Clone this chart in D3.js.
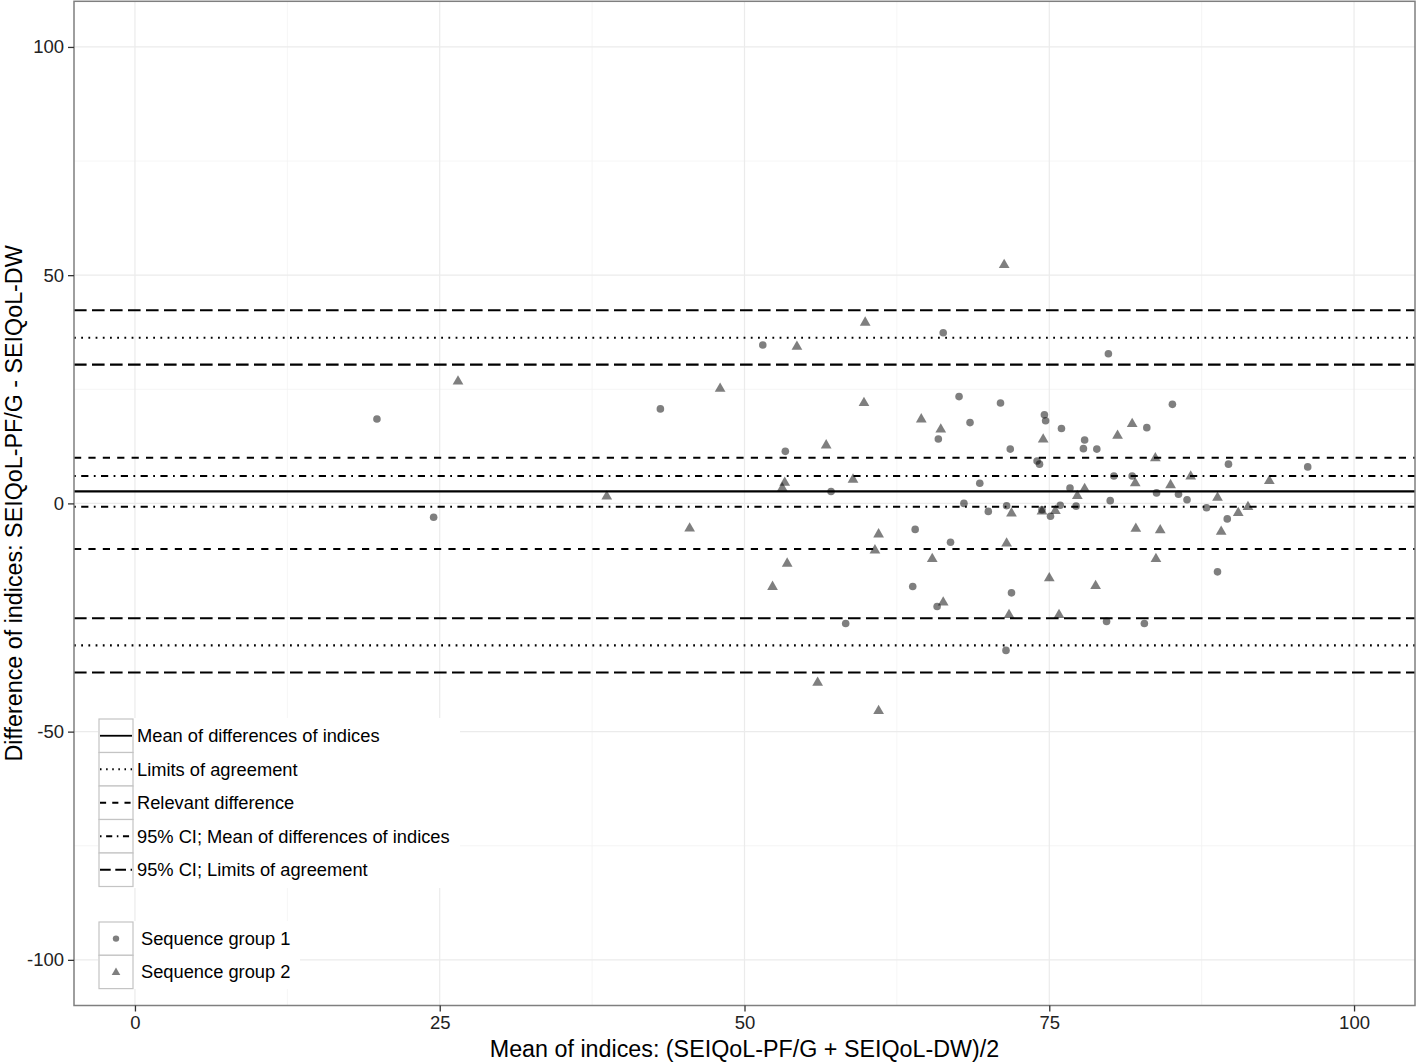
<!DOCTYPE html>
<html>
<head>
<meta charset="utf-8">
<script src="https://cdn.jsdelivr.net/npm/d3@7"></script>
<style>
  body { margin: 0; background: #fff; }
  text { font-family: "Liberation Sans", Arial, Helvetica, sans-serif; }
</style>
</head>
<body>
<svg id="chart"></svg>
<script>
/* data */
const xTicks = [0, 25, 50, 75, 100];
const xMinor = [12.5, 37.5, 62.5, 87.5];
const yTicks = [-100, -50, 0, 50, 100];
const yMinor = [-75, -25, 25, 75];

// sequence group 1 (circles): [mean, difference]
const group1 = [
  [19.85, 18.5], [24.5, -3.05], [43.1, 20.7], [51.5, 34.7], [53.35, 11.4],
  [57.1, 2.6], [58.3, -26.3], [66.3, 37.4], [67.6, 23.4], [71.0, 22.0],
  [68.5, 17.7], [65.9, 14.1], [74.6, 19.4], [74.7, 18.1], [76.0, 16.4],
  [71.8, 11.9], [77.9, 13.9], [77.8, 12.0], [78.9, 11.9], [74.0, 9.3],
  [74.2, 8.6], [69.3, 4.4], [76.7, 3.35], [68.0, 0.0], [70.0, -1.75],
  [71.5, -0.5], [74.4, -1.4], [75.1, -2.8], [75.9, -0.4], [77.2, -0.6],
  [64.0, -5.7], [66.9, -8.5], [63.8, -18.2], [71.9, -19.6], [65.8, -22.6],
  [71.45, -32.2], [79.85, 32.8], [85.1, 21.7], [83.0, 16.6], [89.7, 8.6],
  [96.2, 8.0], [80.3, 6.0], [81.8, 6.0], [83.8, 2.3], [85.6, 2.0],
  [86.3, 0.8], [80.0, 0.6], [87.9, -0.95], [89.6, -3.4], [88.8, -15.0],
  [79.7, -25.85], [82.8, -26.3]
];

// sequence group 2 (triangles)
const group2 = [
  [26.5, 26.9], [38.7, 1.7], [45.5, -5.3], [59.9, 39.8], [54.3, 34.5],
  [48.0, 25.3], [59.8, 22.2], [56.7, 12.9], [53.3, 4.7], [53.1, 3.5],
  [58.9, 5.4], [61.0, -6.6], [60.7, -10.1], [53.5, -13.0], [52.3, -18.1],
  [56.0, -39.1], [61.0, -45.3], [71.3, 52.4], [64.5, 18.6], [66.1, 16.4],
  [74.5, 14.2], [77.9, 3.35], [77.3, 1.8], [71.9, -2.0], [74.4, -1.6],
  [75.5, -1.45], [71.5, -8.6], [65.4, -12.0], [75.0, -16.2], [78.8, -17.9],
  [66.3, -21.5], [71.7, -24.25], [75.8, -24.25], [81.8, 17.6], [80.6, 15.0],
  [83.7, 10.1], [82.05, 4.6], [84.95, 4.2], [86.6, 6.1], [93.05, 5.1],
  [88.8, 1.45], [90.5, -1.9], [91.3, -0.6], [82.1, -5.35], [84.1, -5.7],
  [89.1, -6.0], [83.75, -12.0]
];

const meanDiff = [2.63];
const limitsAgreement = [36.3, -31.1];
const relevantDiff = [10, -10];
const ciMean = [6.0, -0.75];
const ciLimits = [42.3, 30.4, -25.15, -37.06];

const lineLabels = [
  "Mean of differences of indices",
  "Limits of agreement",
  "Relevant difference",
  "95% CI; Mean of differences of indices",
  "95% CI; Limits of agreement"
];
const pointLabels = ["Sequence group 1", "Sequence group 2"];

const xTitle = "Mean of indices: (SEIQoL-PF/G + SEIQoL-DW)/2";
const yTitle = "Difference of indices: SEIQoL-PF/G - SEIQoL-DW";

/* setup */
let width = 1418, height = 1062;
let panel = { left: 74, right: 1415, top: 1.3, bottom: 1005.5 };

let svg = d3.select("#chart")
  .attr("width", width)
  .attr("height", height);

let x = d3.scaleLinear().domain([-5, 105]).range([panel.left, panel.right]);
let y = d3.scaleLinear().domain([-110, 110]).range([panel.bottom, panel.top]);

// line styles (R lty scaled)
let u = 1.8;
let styles = [
  { dash: null, values: meanDiff },
  { dash: [u, 3 * u], values: limitsAgreement },
  { dash: [4 * u, 4 * u], values: relevantDiff },
  { dash: [u, 3 * u, 4 * u, 3 * u], values: ciMean },
  { dash: [7 * u, 3 * u], values: ciLimits }
];

/* grid */
let grid = svg.append("g");
grid.selectAll(".xminor").data(xMinor).enter().append("line")
  .attr("x1", d => x(d)).attr("x2", d => x(d))
  .attr("y1", panel.top).attr("y2", panel.bottom)
  .attr("stroke", "#f2f2f2").attr("stroke-width", 0.8);
grid.selectAll(".yminor").data(yMinor).enter().append("line")
  .attr("y1", d => y(d)).attr("y2", d => y(d))
  .attr("x1", panel.left).attr("x2", panel.right)
  .attr("stroke", "#f2f2f2").attr("stroke-width", 0.8);
grid.selectAll(".xmajor").data(xTicks).enter().append("line")
  .attr("x1", d => x(d)).attr("x2", d => x(d))
  .attr("y1", panel.top).attr("y2", panel.bottom)
  .attr("stroke", "#ebebeb").attr("stroke-width", 1.2);
grid.selectAll(".ymajor").data(yTicks).enter().append("line")
  .attr("y1", d => y(d)).attr("y2", d => y(d))
  .attr("x1", panel.left).attr("x2", panel.right)
  .attr("stroke", "#ebebeb").attr("stroke-width", 1.2);

/* reference lines */
styles.forEach(s => {
  svg.append("g").selectAll("line")
    .data(s.values).enter().append("line")
    .attr("x1", panel.left).attr("x2", panel.right)
    .attr("y1", d => y(d)).attr("y2", d => y(d))
    .attr("stroke", "#000")
    .attr("stroke-width", 2.1)
    .attr("stroke-dasharray", s.dash ? s.dash.join(",") : null);
});

/* points */
svg.append("g").selectAll("circle")
  .data(group1).enter().append("circle")
  .attr("cx", d => x(d[0]))
  .attr("cy", d => y(d[1]))
  .attr("r", 3.8)
  .attr("fill", "#000")
  .attr("fill-opacity", 0.5);

let tri = d3.symbol().type(d3.symbolTriangle).size(50);
svg.append("g").selectAll("path")
  .data(group2).enter().append("path")
  .attr("d", tri)
  .attr("transform", d => "translate(" + x(d[0]) + "," + (y(d[1]) + 0.8) + ")")
  .attr("fill", "#000")
  .attr("fill-opacity", 0.5);

/* legend: lines */
let leg1 = svg.append("g");
leg1.append("rect")
  .attr("x", 98).attr("y", 718).attr("width", 362).attr("height", 170)
  .attr("fill", "#fff");
let rowH = 33.5;
styles.forEach((s, i) => {
  let top = 719 + i * rowH;
  leg1.append("rect")
    .attr("x", 99).attr("y", top).attr("width", 34).attr("height", rowH)
    .attr("fill", "#fff").attr("stroke", "#c4c4c4").attr("stroke-width", 1.2);
  leg1.append("line")
    .attr("x1", 100).attr("x2", 132)
    .attr("y1", top + rowH / 2).attr("y2", top + rowH / 2)
    .attr("stroke", "#000").attr("stroke-width", 1.8)
    .attr("stroke-dasharray", s.dash ? s.dash.map(v => v * 0.85).join(",") : null);
  leg1.append("text")
    .attr("x", 137).attr("y", top + rowH / 2)
    .attr("dy", "0.35em")
    .attr("font-size", "18.3px")
    .attr("fill", "#000")
    .text(lineLabels[i]);
});

/* legend: points */
let leg2 = svg.append("g");
leg2.append("rect")
  .attr("x", 98).attr("y", 921).attr("width", 202).attr("height", 68)
  .attr("fill", "#fff");
let smallTri = d3.symbol().type(d3.symbolTriangle).size(32);
pointLabels.forEach((lab, i) => {
  let top = 922 + i * 33.3;
  leg2.append("rect")
    .attr("x", 99).attr("y", top).attr("width", 34).attr("height", 33.3)
    .attr("fill", "#fff").attr("stroke", "#c4c4c4").attr("stroke-width", 1.2);
  if (i == 0) {
    leg2.append("circle")
      .attr("cx", 116).attr("cy", top + 16.6).attr("r", 3.2)
      .attr("fill", "#000").attr("fill-opacity", 0.5);
  } else {
    leg2.append("path")
      .attr("d", smallTri)
      .attr("transform", "translate(116," + (top + 17.2) + ")")
      .attr("fill", "#000").attr("fill-opacity", 0.5);
  }
  leg2.append("text")
    .attr("x", 141).attr("y", top + 16.6)
    .attr("dy", "0.35em")
    .attr("font-size", "18.3px")
    .attr("fill", "#000")
    .text(lab);
});

/* panel border */
svg.append("rect")
  .attr("x", panel.left).attr("y", panel.top)
  .attr("width", panel.right - panel.left)
  .attr("height", panel.bottom - panel.top)
  .attr("fill", "none")
  .attr("stroke", "#7f7f7f")
  .attr("stroke-width", 1.5);

/* axes */
let xAxis = svg.append("g")
  .attr("transform", "translate(0," + panel.bottom + ")")
  .call(d3.axisBottom(x).tickValues(xTicks).tickFormat(d => String(d)).tickSize(6).tickPadding(4));
let yAxis = svg.append("g")
  .attr("transform", "translate(" + panel.left + ",0)")
  .call(d3.axisLeft(y).tickValues(yTicks).tickFormat(d => String(d)).tickSize(6).tickPadding(4));

[xAxis, yAxis].forEach(a => {
  a.select(".domain").remove();
  a.selectAll(".tick line").attr("stroke", "#333").attr("stroke-width", 1.3);
  a.selectAll(".tick text")
    .attr("font-size", "18.5px")
    .attr("fill", "#222")
    .style("font-family", "'Liberation Sans', Arial, sans-serif");
});

svg.append("text")
  .attr("x", (panel.left + panel.right) / 2)
  .attr("y", 1057)
  .attr("text-anchor", "middle")
  .attr("font-size", "23.3px")
  .attr("fill", "#000")
  .text(xTitle);

svg.append("text")
  .attr("transform", "translate(22," + (panel.top + panel.bottom) / 2 + ") rotate(-90)")
  .attr("text-anchor", "middle")
  .attr("font-size", "23.3px")
  .attr("fill", "#000")
  .text(yTitle);
</script>
</body>
</html>
